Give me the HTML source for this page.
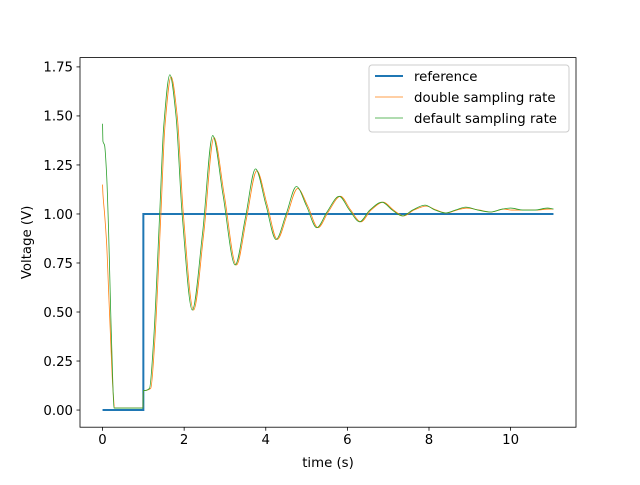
<!DOCTYPE html>
<html><head><meta charset="utf-8"><style>
body{margin:0;background:#fff;}
svg{font-family:"DejaVu Sans","Liberation Sans",sans-serif;}
</style></head><body>
<svg id="chart" width="640" height="480" viewBox="0 0 640 480">
<rect width="640" height="480" fill="#fff"/>
<g id="plot"></g>
</svg>
<script>
const xTicks=[0,2,4,6,8,10];
const yTicks=[0,0.25,0.5,0.75,1.0,1.25,1.5,1.75];
const refT=[0,1,1,11.05];
const refV=[0,0,1,1];
const greenT=[0,0.01,0.05,0.1,0.15,0.2,0.25,0.28,0.5,0.99,1.0,1.05,1.15,1.25,1.4,1.5,1.65,1.8,1.95,2.2,2.45,2.7,2.95,3.25,3.5,3.75,4.0,4.25,4.5,4.75,5.0,5.25,5.5,5.8,6.05,6.3,6.55,6.85,7.1,7.35,7.6,7.9,8.15,8.4,8.65,8.9,9.2,9.5,9.8,10.0,10.3,10.6,10.9,11.05];
const greenV=[1.46,1.37,1.35,1.2,0.9,0.5,0.15,0.01,0.01,0.01,0.1,0.1,0.11,0.35,1.0,1.45,1.71,1.5,1.0,0.51,0.9,1.40,1.1,0.74,0.98,1.23,1.05,0.87,1.0,1.14,1.04,0.93,1.01,1.09,1.02,0.96,1.02,1.06,1.02,0.99,1.02,1.045,1.02,1.005,1.02,1.035,1.02,1.01,1.025,1.03,1.02,1.02,1.03,1.025];
const orangeT=[0,0.01,0.05,0.1,0.15,0.2,0.25,0.3,0.5,0.99,1.0,1.05,1.18,1.28,1.43,1.53,1.68,1.83,1.98,2.23,2.48,2.73,2.98,3.28,3.53,3.78,4.03,4.28,4.53,4.78,5.03,5.28,5.53,5.83,6.08,6.33,6.58,6.88,7.13,7.38,7.63,7.93,8.18,8.43,8.68,8.93,9.23,9.53,9.83,10.03,10.33,10.63,10.93,11.05];
const orangeV=[1.15,1.1,1.0,0.85,0.6,0.35,0.12,0.01,0.01,0.01,0.1,0.1,0.11,0.35,1.0,1.45,1.70,1.5,1.0,0.51,0.9,1.39,1.1,0.74,0.98,1.22,1.05,0.87,1.0,1.13,1.04,0.93,1.01,1.09,1.02,0.96,1.02,1.06,1.02,0.99,1.02,1.04,1.02,1.005,1.02,1.03,1.02,1.01,1.025,1.02,1.02,1.02,1.025,1.025];

const L=80,R=576,T=57.6,B=427.2;
const xMin=-0.5525,xMax=11.6025,yMin=-0.0875,yMax=1.7975;
const sx=v=>L+(v-xMin)/(xMax-xMin)*(R-L);
const sy=v=>B-(v-yMin)/(yMax-yMin)*(B-T);
const NS="http://www.w3.org/2000/svg";
const g=document.getElementById('plot');
function mk(tag,attrs,parent){const e=document.createElementNS(NS,tag);for(const k in attrs)e.setAttribute(k,attrs[k]);(parent||g).appendChild(e);return e;}
function harm(a,b){return a*b<=0?0:2*a*b/(a+b);}
function monoPath(ts,vs){
  const n=ts.length;const X=ts.map(sx),Y=vs.map(sy);
  const d=[],m=new Array(n);
  for(let i=0;i<n-1;i++){const h=X[i+1]-X[i];d.push(h===0?0:(Y[i+1]-Y[i])/h);}
  m[0]=d[0];m[n-1]=d[n-2];
  for(let i=1;i<n-1;i++)m[i]=harm(d[i-1],d[i]);
  let p='M'+X[0]+','+Y[0];
  for(let i=0;i<n-1;i++){const h=X[i+1]-X[i];
    if(h===0){p+='L'+X[i+1]+','+Y[i+1];continue;}
    p+='C'+(X[i]+h/3)+','+(Y[i]+m[i]*h/3)+' '+(X[i+1]-h/3)+','+(Y[i+1]-m[i+1]*h/3)+' '+X[i+1]+','+Y[i+1];}
  return p;
}

xTicks.forEach(t=>{
  const l=mk('line',{x1:sx(t),x2:sx(t),y1:B,y2:B+3.5,stroke:'#000','stroke-width':0.8});
  
  
  const tx=mk('text',{x:sx(t),y:B+17,'text-anchor':'middle','font-size':'13.3px'});
  tx.textContent=String(t);
  
  
});
yTicks.forEach(t=>{
  const l=mk('line',{x1:L-3.5,x2:L,y1:sy(t),y2:sy(t),stroke:'#000','stroke-width':0.8});
  
  
  const tx=mk('text',{x:L-7,y:sy(t)+4.8,'text-anchor':'end','font-size':'13.3px'});
  tx.textContent=t.toFixed(2);
  
  
});

const ref=mk('path',{d:'M'+refT.map((t,i)=>sx(t)+','+sy(refV[i])).join('L'),fill:'none',stroke:'#1f77b4','stroke-width':2});


const og=mk('path',{d:monoPath(orangeT,orangeV),fill:'none',stroke:'#ff7f0e','stroke-width':0.8});


const gr=mk('path',{d:monoPath(greenT,greenV),fill:'none',stroke:'#2ca02c','stroke-width':0.8});



const frame=mk('rect',{x:L,y:T,width:R-L,height:B-T,fill:'none',stroke:'#000','stroke-width':0.8});



const xl=mk('text',{x:(L+R)/2,y:467,'text-anchor':'middle','font-size':'13.3px'});
xl.textContent='time (s)';


const yl=mk('text',{x:0,y:0,'text-anchor':'middle','font-size':'13.3px',transform:'translate(31,'+((T+B)/2)+') rotate(-90)'});
yl.textContent='Voltage (V)';



const lg=mk('g',{});


mk('rect',{x:369,y:65,width:200,height:67,rx:3,fill:'#fff','fill-opacity':0.8,stroke:'#ccc','stroke-width':1},lg);
const entries=[['reference','#1f77b4',2],['double sampling rate','#ff7f0e',0.8],['default sampling rate','#2ca02c',0.8]];
entries.forEach((e,i)=>{
  const y=76+i*21;
  const eg=mk('g',{},lg);
  
  
  mk('line',{x1:375,x2:403,y1:y,y2:y,stroke:e[1],'stroke-width':e[2]},eg);
  const t=mk('text',{x:414,y:y+4.8,'font-size':'13.3px'},eg);
  t.textContent=e[0];
});
</script>
</body></html>
